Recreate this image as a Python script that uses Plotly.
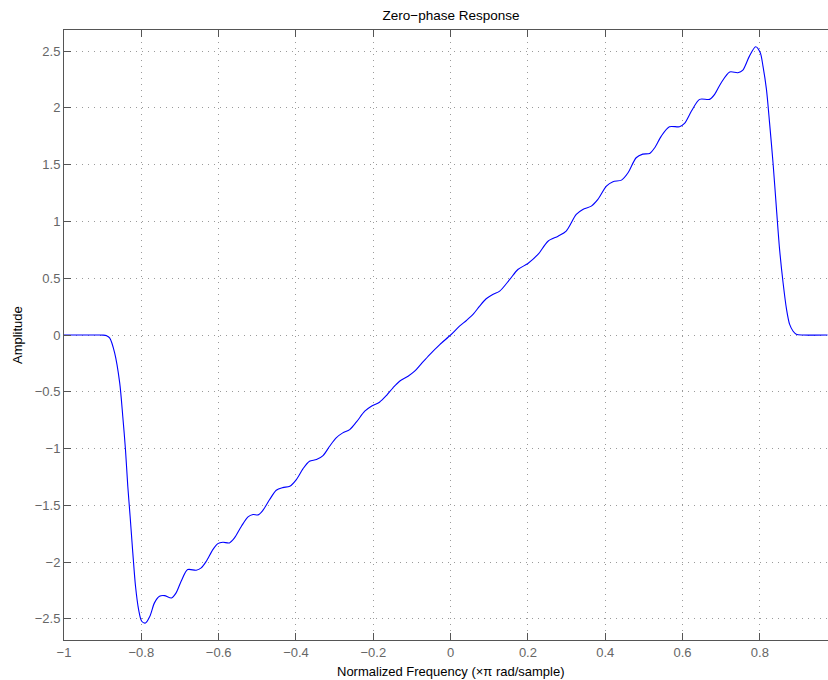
import plotly.graph_objects as go

# Normalized frequency (x pi rad/sample) and zero-phase amplitude
freq = [-1.0, -0.95, -0.91, -0.899, -0.89, -0.882, -0.869, -0.856, -0.848, -0.841,
        -0.835, -0.829, -0.822, -0.815, -0.807, -0.799, -0.789, -0.778, -0.766, -0.753,
        -0.740, -0.722, -0.710, -0.697, -0.680, -0.658, -0.645, -0.632, -0.615, -0.602,
        -0.589, -0.572, -0.559, -0.541, -0.524, -0.511, -0.498, -0.486, -0.468, -0.451,
        -0.434, -0.416, -0.399, -0.382, -0.365, -0.347, -0.330, -0.313, -0.296, -0.279,
        -0.261, -0.244, -0.222, -0.205, -0.184, -0.166, -0.149, -0.132, -0.110, -0.093,
        -0.076, -0.054, -0.028, 0.0, 0.023, 0.041, 0.058, 0.075, 0.092, 0.109,
        0.127, 0.153, 0.174, 0.200, 0.226, 0.252, 0.278, 0.299, 0.325, 0.342,
        0.364, 0.381, 0.403, 0.420, 0.442, 0.459, 0.480, 0.497, 0.515, 0.528,
        0.545, 0.566, 0.592, 0.605, 0.623, 0.644, 0.670, 0.683, 0.700, 0.722,
        0.743, 0.756, 0.773, 0.789, 0.801, 0.808, 0.817, 0.825, 0.834, 0.843,
        0.851, 0.860, 0.869, 0.877, 0.886, 0.894, 0.911, 0.975]
amplitude = [0.0, 0.0, 0.0, -0.001, -0.006, -0.025, -0.157, -0.420, -0.715, -1.009,
             -1.332, -1.596, -1.919, -2.213, -2.418, -2.521, -2.536, -2.478, -2.359, -2.301,
             -2.295, -2.316, -2.271, -2.169, -2.066, -2.072, -2.051, -1.993, -1.890, -1.837,
             -1.825, -1.831, -1.787, -1.684, -1.602, -1.581, -1.584, -1.546, -1.449, -1.367,
             -1.344, -1.332, -1.273, -1.179, -1.112, -1.097, -1.062, -0.980, -0.906, -0.862,
             -0.833, -0.768, -0.671, -0.627, -0.592, -0.533, -0.465, -0.407, -0.363, -0.319,
             -0.254, -0.172, -0.084, 0.0, 0.078, 0.128, 0.181, 0.254, 0.319, 0.357,
             0.386, 0.489, 0.577, 0.630, 0.709, 0.826, 0.870, 0.915, 1.062, 1.106,
             1.135, 1.194, 1.311, 1.350, 1.364, 1.429, 1.561, 1.593, 1.599, 1.649,
             1.752, 1.834, 1.834, 1.863, 1.972, 2.075, 2.075, 2.119, 2.222, 2.316,
             2.310, 2.333, 2.456, 2.539, 2.486, 2.368, 2.163, 1.870, 1.517, 1.106,
             0.753, 0.460, 0.225, 0.093, 0.033, 0.007, 0.0, 0.0]

x_ticks = [-1, -0.8, -0.6, -0.4, -0.2, 0, 0.2, 0.4, 0.6, 0.8]
x_tick_labels = ["\u22121", "\u22120.8", "\u22120.6", "\u22120.4", "\u22120.2", "0", "0.2", "0.4", "0.6", "0.8"]
y_ticks = [-2.5, -2, -1.5, -1, -0.5, 0, 0.5, 1, 1.5, 2, 2.5]
y_tick_labels = ["\u22122.5", "\u22122", "\u22121.5", "\u22121", "\u22120.5", "0", "0.5", "1", "1.5", "2", "2.5"]

title_text = "Zero\u2212phase Response"
x_title = "Normalized Frequency (\u00d7\u03c0 rad/sample)"
y_title = "Amplitude"

FONT = "Liberation Sans, Arial, Helvetica, sans-serif"
AXIS_COLOR = "#555555"
TICK_COLOR = "#666666"

fig = go.Figure()
fig.add_trace(go.Scatter(x=freq, y=amplitude, mode="lines",
                         line=dict(color="#0000ff", width=1.1, shape="spline", smoothing=0.8),
                         hoverinfo="skip"))

fig.update_layout(
    width=828, height=680,
    margin=dict(l=64, r=0, t=30, b=40, autoexpand=False),
    paper_bgcolor="white", plot_bgcolor="white",
    showlegend=False,
    font=dict(family=FONT, size=13, color="black"),
    title=dict(text=title_text, x=451 / 828, xref="container", xanchor="center",
               y=1 - 15 / 680, yref="container", yanchor="middle",
               font=dict(family=FONT, size=13.5, color="black")),
    annotations=[
        dict(text=x_title, xref="paper", yref="paper", x=(451 - 64) / 764, y=0,
             yshift=-31, xanchor="center", yanchor="middle", showarrow=False,
             font=dict(family=FONT, size=13, color="black")),
        dict(text=y_title, xref="paper", yref="paper", x=0, y=0.5,
             xshift=-47, xanchor="center", yanchor="middle", textangle=-90,
             showarrow=False, font=dict(family=FONT, size=13, color="black")),
    ],
)

fig.update_xaxes(
    range=[-1, -1 + 764 / 386.6], tickvals=x_ticks, ticktext=x_tick_labels,
    automargin=False,
    showline=True, linecolor=AXIS_COLOR, linewidth=1, mirror="ticks",
    ticks="inside", ticklen=7, tickcolor=AXIS_COLOR, tickwidth=1,
    tickfont=dict(family=FONT, size=13, color=TICK_COLOR),
    showgrid=True, gridcolor="#9a9a9a", gridwidth=1, griddash="1px,5px",
    zeroline=False,
)
fig.update_yaxes(
    range=[-2.686, 2.686], tickvals=y_ticks, ticktext=y_tick_labels,
    automargin=False,
    showline=True, linecolor=AXIS_COLOR, linewidth=1, mirror=False,
    ticks="inside", ticklen=7, tickcolor=AXIS_COLOR, tickwidth=1,
    tickfont=dict(family=FONT, size=13, color=TICK_COLOR),
    showgrid=True, gridcolor="#9a9a9a", gridwidth=1, griddash="1px,5px",
    zeroline=False,
)

fig.write_html(
    "out.html",
    config={"displayModeBar": False},
    post_script="document.body.style.margin='0';document.body.style.overflow='hidden';",
)
